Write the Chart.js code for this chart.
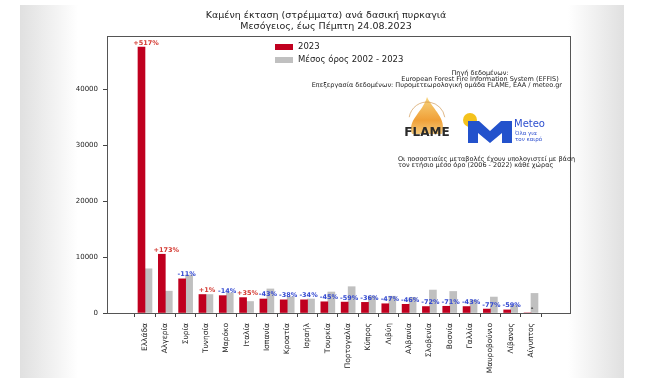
<!DOCTYPE html>
<html>
<head>
<meta charset="utf-8">
<script src="https://cdn.jsdelivr.net/npm/chart.js@4.4.1/dist/chart.umd.min.js"></script>
<style>
  html, body { margin: 0; padding: 0; background: #fff; }
  #wrap { position: relative; width: 650px; height: 384px; }
  #shade {
    position: absolute; left: 20px; top: 5px; width: 604px; height: 373px;
    background: linear-gradient(to right, #e0e0e0 0px, #f5f5f5 40px, #fff 58px, #fff 548px, #f5f5f5 566px, #e0e0e0 604px);
  }
  canvas { position: absolute; left: 0; top: 0; }
</style>
</head>
<body>
<div id="wrap">
  <div id="shade"></div>
  <canvas id="chart" width="650" height="384"></canvas>
</div>
<script>
// burned area (stremmata) per country
const countries = ['Ελλάδα', 'Αλγερία', 'Συρία', 'Τυνησία', 'Μαρόκο', 'Ιταλία', 'Ισπανία', 'Κροατία', 'Ισραήλ', 'Τουρκία',
  'Πορτογαλία', 'Κύπρος', 'Λιβύη', 'Αλβανία', 'Σλοβενία', 'Βοσνία', 'Γαλλία', 'Μαυροβούνιο', 'Λίβανος', 'Αίγυπτος'];
const burned2023 = [47500, 10500, 6100, 3300, 3100, 2750, 2500, 2350, 2350, 2000,
  1950, 1900, 1650, 1550, 1150, 1200, 1150, 700, 550, 0];
const average = [7900, 3900, 6800, 3300, 3600, 2050, 4300, 2900, 2500, 3750,
  4700, 3000, 3000, 2800, 4100, 3850, 2300, 2850, 1400, 3500];
const changeLabels = ['+517%', '+173%', '-11%', '+1%', '-14%', '+35%', '-43%', '-38%', '-34%', '-45%',
  '-59%', '-36%', '-47%', '-46%', '-72%', '-71%', '-43%', '-77%', '-59%', '-'];
const yTicks = [0, 10000, 20000, 30000, 40000];

const FONT = '"DejaVu Sans", sans-serif';
const RED = '#c0001f';
const GREY = '#c0c0c0';

// frame, title, legend, notes and logos
const decor = {
  id: 'decor',
  afterDraw(chart) {
    const ctx = chart.ctx;
    const a = chart.chartArea;
    ctx.save();
    ctx.strokeStyle = '#555';
    ctx.lineWidth = 1;
    ctx.strokeRect(Math.round(a.left) + 0.5, Math.round(a.top) + 0.5,
      Math.round(a.right - a.left), Math.round(a.bottom - a.top));

    // title
    ctx.fillStyle = '#222';
    ctx.textAlign = 'center';
    ctx.textBaseline = 'middle';
    ctx.font = '9.5px ' + FONT;
    ctx.fillText('Καμένη έκταση (στρέμματα) ανά δασική πυρκαγιά', 326, 16);
    ctx.fillText('Μεσόγειος, έως Πέμπτη 24.08.2023', 326, 27);

    // legend
    ctx.textAlign = 'left';
    ctx.font = '8.5px ' + FONT;
    chart.data.datasets.forEach((ds, i) => {
      const y = 47 + i * 13;
      ctx.fillStyle = ds.backgroundColor;
      ctx.fillRect(275, y - 3, 18, 6);
      ctx.fillStyle = '#222';
      ctx.fillText(ds.label, 298, y);
    });

    // source notes
    ctx.font = '6.5px ' + FONT;
    ctx.fillStyle = '#222';
    ctx.textAlign = 'center';
    ctx.fillText('Πηγή δεδομένων:', 480, 73);
    ctx.fillText('European Forest Fire Information System (EFFIS)', 480, 79);
    ctx.textAlign = 'right';
    ctx.fillText('Επεξεργασία δεδομένων: Πυρομετεωρολογική ομάδα FLAME, ΕΑΑ / meteo.gr', 562, 85);
    ctx.textAlign = 'left';
    ctx.fillText('Οι ποσοστιαίες μεταβολές έχουν υπολογιστεί με βάση', 398, 159);
    ctx.fillText('τον ετήσιο μέσο όρο (2006 - 2022) κάθε χώρας', 398, 165);

    // FLAME logo
    const g = ctx.createLinearGradient(0, 98, 0, 142);
    g.addColorStop(0, '#f7d27a');
    g.addColorStop(0.5, '#f0a038');
    g.addColorStop(1, '#f8e0a0');
    ctx.fillStyle = g;
    ctx.beginPath();
    ctx.moveTo(427, 97);
    ctx.bezierCurveTo(433, 110, 447, 118, 442, 134);
    ctx.lineTo(412, 134);
    ctx.bezierCurveTo(407, 120, 423, 112, 427, 97);
    ctx.fill();
    ctx.strokeStyle = '#c98a3a';
    ctx.lineWidth = 0.6;
    ctx.beginPath();
    ctx.arc(427, 120, 18, Math.PI * 1.05, Math.PI * 1.95);
    ctx.stroke();
    ctx.fillStyle = '#2a2a2a';
    ctx.textAlign = 'center';
    ctx.font = 'bold 12px ' + FONT;
    ctx.fillText('FLAME', 427, 133);

    // Meteo logo
    ctx.fillStyle = '#f4c21c';
    ctx.beginPath();
    ctx.arc(470, 120, 7, 0, Math.PI * 2);
    ctx.fill();
    ctx.fillStyle = '#2352cc';
    ctx.beginPath();
    ctx.moveTo(468, 121); ctx.lineTo(479, 121); ctx.lineTo(490, 131); ctx.lineTo(501, 121);
    ctx.lineTo(512, 121); ctx.lineTo(512, 143); ctx.lineTo(502, 143); ctx.lineTo(502, 133);
    ctx.lineTo(490, 143); ctx.lineTo(478, 133); ctx.lineTo(478, 143); ctx.lineTo(468, 143);
    ctx.closePath();
    ctx.fill();
    ctx.textAlign = 'left';
    ctx.fillStyle = '#2d4fcf';
    ctx.font = '10px ' + FONT;
    ctx.fillText('Meteo', 514, 124);
    ctx.font = '5.5px ' + FONT;
    ctx.fillText('Όλα για', 515, 134);
    ctx.fillText('τον καιρό', 515, 140);
    ctx.restore();
  },
  afterDatasetsDraw(chart) {
    // percentage change above each country's 2023 bar
    const ctx = chart.ctx;
    const x = chart.scales.x;
    const y = chart.scales.y;
    ctx.save();
    ctx.font = 'bold 6.5px ' + FONT;
    ctx.textAlign = 'center';
    ctx.textBaseline = 'bottom';
    changeLabels.forEach((t, i) => {
      if (t === '-') ctx.fillStyle = '#222';
      else ctx.fillStyle = t[0] === '+' ? '#d43a32' : '#3349d1';
      ctx.fillText(t, x.getPixelForValue(i) + 1, y.getPixelForValue(burned2023[i]) - 1);
    });
    ctx.restore();
  }
};

new Chart(document.getElementById('chart'), {
  type: 'bar',
  data: {
    datasets: [
      { label: '2023', data: burned2023.map((v, i) => ({ x: i, y: v })), backgroundColor: RED, barThickness: 7 },
      { label: 'Μέσος όρος 2002 - 2023', data: average.map((v, i) => ({ x: i, y: v })), backgroundColor: GREY, barThickness: 7 }
    ]
  },
  options: {
    responsive: false,
    animation: false,
    devicePixelRatio: 1,
    layout: { padding: { left: 65, right: 80, top: 36, bottom: 1 } },
    plugins: { legend: { display: false }, tooltip: { enabled: false } },
    scales: {
      x: {
        type: 'linear',
        min: -1.3,
        max: 20.35,
        afterBuildTicks: (s) => { s.ticks = countries.map((_, i) => ({ value: i })); },
        afterFit: (s) => { s.height = 70; },
        ticks: {
          callback: (v) => countries[v],
          minRotation: 90, maxRotation: 90, autoSkip: false,
          padding: 6, color: '#222', font: { family: FONT, size: 7.5 }
        },
        grid: { drawOnChartArea: false, drawTicks: true, tickLength: 4, color: '#444' },
        border: { color: '#555' }
      },
      y: {
        min: 0,
        max: 49500,
        afterBuildTicks: (s) => { s.ticks = yTicks.map((v) => ({ value: v })); },
        afterFit: (s) => { s.width = 42; },
        ticks: { callback: (v) => String(v), padding: 5, color: '#222', font: { family: FONT, size: 7 } },
        grid: { drawOnChartArea: false, drawTicks: true, tickLength: 4, color: '#444' },
        border: { color: '#555' }
      }
    }
  },
  plugins: [decor]
});
</script>
</body>
</html>
